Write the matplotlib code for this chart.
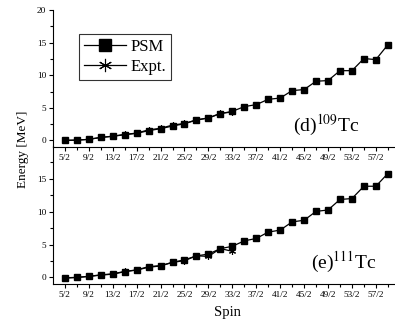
import matplotlib
matplotlib.use("Agg")
import matplotlib.pyplot as plt
from matplotlib.ticker import FixedLocator
import numpy as np

plt.rcParams['font.family'] = ['Liberation Serif', 'DejaVu Serif']
plt.rcParams['mathtext.fontset'] = 'stix'

# Spin values (2J)
spin2 = [5, 7, 9, 11, 13, 15, 17, 19, 21, 23, 25, 27, 29, 31, 33, 35, 37, 39,
         41, 43, 45, 47, 49, 51, 53, 55, 57, 59]
tick_spin2 = [5, 9, 13, 17, 21, 25, 29, 33, 37, 41, 45, 49, 53, 57]
tick_labels = [f"{s}/2" for s in tick_spin2]

# (d) 109Tc
psm_109 = [0.0, 0.05, 0.15, 0.46, 0.62, 0.87, 1.08, 1.49, 1.8, 2.2, 2.56, 3.12,
           3.44, 4.1, 4.46, 5.18, 5.49, 6.3, 6.5, 7.64, 7.8, 9.08, 9.18, 10.7,
           10.7, 12.56, 12.4, 14.67]
expt_spin2_109 = [5, 7, 9, 11, 13, 15, 17, 19, 21, 23, 25, 27, 29, 31, 33]
expt_109 = [0.0, 0.03, 0.17, 0.45, 0.65, 0.92, 1.12, 1.62, 1.85, 2.35, 2.6,
            3.15, 3.45, 4.15, 4.35]

# (e) 111Tc
psm_111 = [-0.1, 0.0, 0.15, 0.36, 0.5, 0.88, 1.13, 1.55, 1.75, 2.3, 2.68, 3.28,
           3.56, 4.38, 4.74, 5.57, 5.93, 6.9, 7.2, 8.45, 8.7, 10.05, 10.26,
           11.86, 12.0, 13.87, 13.87, 15.8]
expt_spin2_111 = [5, 7, 9, 11, 13, 15, 17, 19, 21, 23, 25, 27, 29, 31, 33]
expt_111 = [-0.05, 0.02, 0.18, 0.4, 0.55, 0.92, 1.15, 1.65, 1.8, 2.3, 2.55,
            3.3, 3.2, 4.4, 3.97]

fig = plt.figure(figsize=(3.95, 3.25), dpi=100)
ax1 = fig.add_axes([0.134, 0.548, 0.866, 0.421])
ax2 = fig.add_axes([0.134, 0.126, 0.866, 0.425])

def style(ax, psm, es, ex, label, show_top, lx, legend=False):
    x = np.array(spin2) / 2
    ax.plot(x, psm, '-s', color='black', ms=4.3, lw=0.9, label='PSM')
    ax.plot(np.array(es) / 2, ex, '-', marker=(6, 2, 0), color='black', ms=5,
            lw=0.9, mew=0.8, label='Expt.')
    ax.set_xlim(1.5, 30.1)
    ax.set_ylim(-1, 20)
    for s in ['top', 'right']:
        ax.spines[s].set_visible(False)
    ax.xaxis.set_major_locator(FixedLocator(np.array(tick_spin2) / 2))
    ax.set_xticklabels(tick_labels)
    ax.xaxis.set_minor_locator(FixedLocator(np.arange(3.5, 30, 2)))
    if show_top:
        ax.yaxis.set_major_locator(FixedLocator([0, 5, 10, 15, 20]))
    else:
        ax.yaxis.set_major_locator(FixedLocator([0, 5, 10, 15]))
    ax.yaxis.set_minor_locator(FixedLocator([2.5, 7.5, 12.5, 17.5]))
    ax.tick_params(which='major', length=3, width=0.8, labelsize=6.7, pad=2,
                   colors='black')
    ax.tick_params(which='minor', length=2, width=0.8)
    ax.patch.set_alpha(0)
    ax.text(lx, 0.11, label, transform=ax.transAxes,
            fontsize=14, ha='center', va='baseline')
    if legend:
        leg = ax.legend(loc='upper left', bbox_to_anchor=(0.076, 0.825),
                        fontsize=12, frameon=True, fancybox=False,
                        edgecolor='black', handlelength=2.5, borderpad=0.3,
                        labelspacing=0.25, handletextpad=0.3, borderaxespad=0,
                        markerscale=1.9)
        leg.get_frame().set_linewidth(0.8)

style(ax1, psm_109, expt_spin2_109, expt_109, r'(d)$^{109}$Tc', True, 0.80,
      legend=True)
style(ax2, psm_111, expt_spin2_111, expt_111, r'(e)$^{111}$Tc', False, 0.85)

fig.text(0.058, 0.54, 'Energy [MeV]', rotation=90, fontsize=9.5, ha='center',
         va='center')
fig.text(0.577, 0.037, 'Spin', fontsize=10.5, ha='center', va='center')

fig.savefig('out.png', dpi=100)
